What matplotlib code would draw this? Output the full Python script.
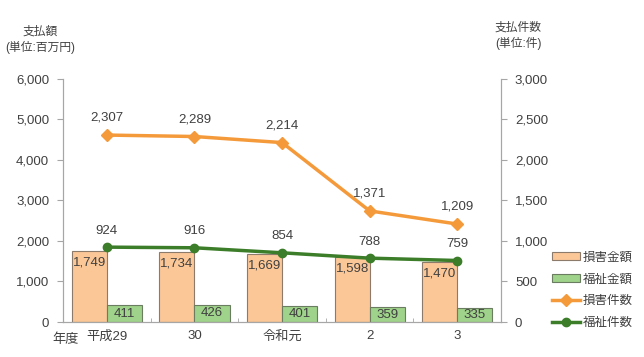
import numpy as np
import matplotlib.pyplot as plt

plt.rcParams['font.family'] = ['Liberation Sans', 'Noto Sans CJK JP', 'DejaVu Sans']

years = ['平成29', '30', '令和元', '2', '3']
damage_amount = [1749, 1734, 1669, 1598, 1470]
welfare_amount = [411, 426, 401, 359, 335]
damage_count = [2307, 2289, 2214, 1371, 1209]
welfare_count = [924, 916, 854, 788, 759]

c_dmg_bar = '#FBC797'
c_wel_bar = '#9FD28A'
c_dmg_line = '#F59A3B'
c_wel_line = '#3C7D2A'
txt = '#404040'
grid_c = '#A6A6A6'

fig = plt.figure(figsize=(6.44, 3.57), dpi=100)
ax = fig.add_axes([0.098, 0.098, 0.680, 0.681])
ax2 = ax.twinx()

x = np.arange(len(years))
w = 0.4
b1 = ax.bar(x - w / 2, damage_amount, w, color=c_dmg_bar, edgecolor='#8C7B6B', lw=0.8, label='損害金額')
b2 = ax.bar(x + w / 2, welfare_amount, w, color=c_wel_bar, edgecolor='#6B7D60', lw=0.8, label='福祉金額')

for xi, v in zip(x, damage_amount):
    ax.text(xi - w / 2, v - 130, f'{v:,}', ha='center', va='top', fontsize=9.5, color=txt)
for xi, v in zip(x, welfare_amount):
    ax.text(xi + w / 2, v / 2, f'{v:,}', ha='center', va='center', fontsize=9.5, color=txt)

l1, = ax2.plot(x, damage_count, color=c_dmg_line, lw=2.5, marker='D', ms=6, label='損害件数')
l2, = ax2.plot(x, welfare_count, color=c_wel_line, lw=2.5, marker='o', ms=6, label='福祉件数')
for xi, v in zip(x, damage_count):
    ax2.text(xi, v + 140, f'{v:,}', ha='center', va='bottom', fontsize=9.5, color=txt)
for xi, v in zip(x, welfare_count):
    ax2.text(xi, v + 130, f'{v:,}', ha='center', va='bottom', fontsize=9.5, color=txt)

ax.set_xlim(-0.5, len(years) - 0.5)
ax.set_ylim(0, 6000)
ax2.set_ylim(0, 3000)
ax.set_yticks(range(0, 6001, 1000))
ax2.set_yticks(range(0, 3001, 500))
ax.set_yticklabels([f'{v:,}' for v in range(0, 6001, 1000)])
ax2.set_yticklabels([f'{v:,}' for v in range(0, 3001, 500)])
ax.set_xticks(x)
ax.set_xticklabels(years)
ax.set_xticks(np.arange(-0.5, len(years)), minor=True)
ax.tick_params(axis='x', which='major', length=0, pad=6, labelsize=9.5, labelcolor=txt)
ax.tick_params(axis='x', which='minor', length=3, color=grid_c, direction='in')
ax.tick_params(axis='y', length=4, color=grid_c, labelsize=9.5, labelcolor=txt, pad=6)
ax2.tick_params(axis='y', length=4, color=grid_c, labelsize=9.5, labelcolor=txt, pad=6)

for a in (ax, ax2):
    a.spines['top'].set_visible(False)
    for s in ('left', 'right', 'bottom'):
        a.spines[s].set_color(grid_c)

fig.text(52 / 644, 1 - 340 / 357, '年度', ha='left', va='center', fontsize=9.5, color=txt)

fig.text(40 / 644, 1 - 40 / 357, '支払額\n(単位:百万円)', ha='center', va='center', fontsize=8.5, color=txt, linespacing=1.3)
fig.text(518 / 644, 1 - 36 / 357, '支払件数\n(単位:件)', ha='center', va='center', fontsize=8.5, color=txt, linespacing=1.3)

ax.legend(handles=[b1, b2, l1, l2], loc='lower left', bbox_to_anchor=(1.09, -0.075), frameon=False,
          fontsize=9, labelcolor=txt, handlelength=2.3, handleheight=0.6, handletextpad=0.2,
          labelspacing=0.78)

fig.savefig('out.png', dpi=100)
